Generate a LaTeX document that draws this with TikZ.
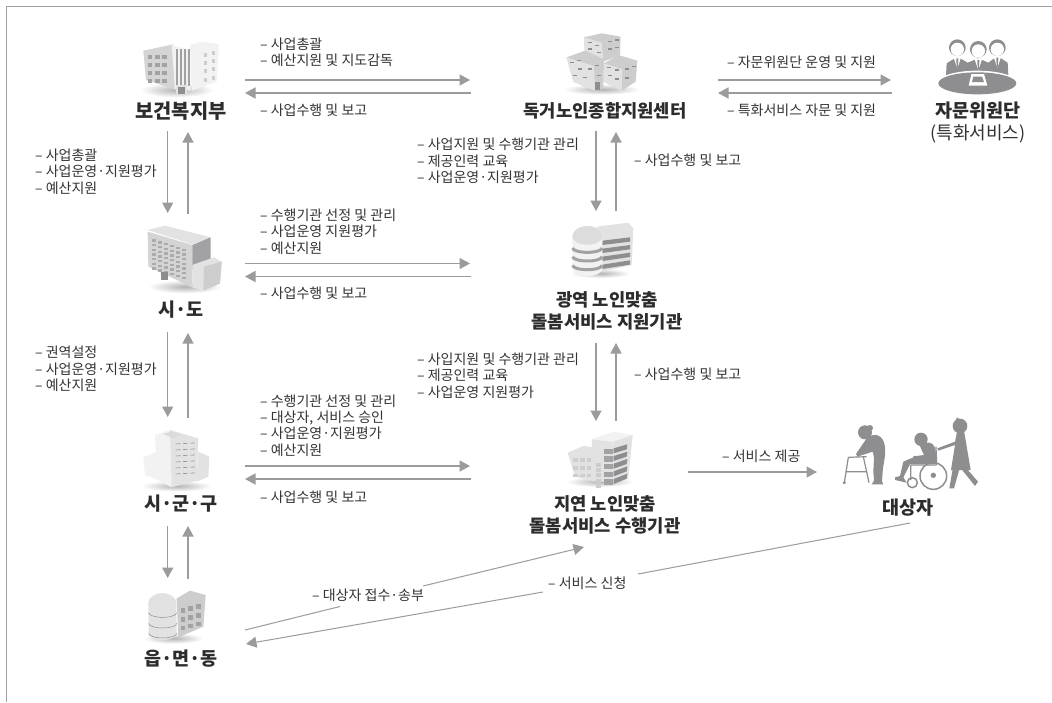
\documentclass[tikz,border=0pt]{standalone}
\usepackage{fontspec}
\setmainfont{Noto Sans CJK KR}
\usetikzlibrary{arrows.meta}
\definecolor{linegray}{HTML}{9B9B9E}
\definecolor{framegray}{HTML}{A0A0A0}
\definecolor{txt}{HTML}{333333}
\definecolor{ttl}{HTML}{2C2C2C}
\definecolor{iconW}{HTML}{F2F2F2}
\definecolor{iconL}{HTML}{E2E2E2}
\definecolor{iconM}{HTML}{CDCDCD}
\definecolor{iconD}{HTML}{A2A2A4}
\definecolor{iconK}{HTML}{8E8E91}
\tikzset{
  lbl/.style={anchor=west,inner sep=0pt,align=left,text=txt,font=\fontsize{14}{16.4}\selectfont},
  ttlnode/.style={inner sep=0pt,align=center,text=ttl,font=\bfseries\fontsize{18.5}{22}\selectfont},
  ttlnarrow/.style={ttlnode,font=\bfseries\fontsize{17.7}{22}\selectfont},
  ttlwide/.style={ttlnode,font=\bfseries\fontsize{19.8}{22}\selectfont},
  subnode/.style={inner sep=0pt,align=center,text=txt,font=\fontsize{18}{22}\selectfont},
  conn/.style={draw=linegray,line width=1.5pt,-{Triangle[length=10.5pt,width=11pt]}},
  thinconn/.style={draw=linegray,line width=1pt,-{Triangle[length=10.5pt,width=11pt]}},
  thinline/.style={draw=linegray,line width=1pt},
  zoomA/.style={x=0.33333pt,y=-0.33333pt},
  shadow/.style={inner color=black!30,outer color=white,draw=none},
}
\begin{document}
\begin{tikzpicture}[x=1pt,y=-1pt]
\useasboundingbox (0,0) rectangle (1052,702);
\fill[white] (0,0) rectangle (1052,702);
\draw[framegray,line width=1pt] (6,702) -- (6,6) -- (1052,6);

% ---------- icons (drawn in 3x crop coordinates)
\begin{scope}[zoomA]
 % health ministry building
 \shade[shadow] (530,270) ellipse (110 and 22);
 \fill[iconM!85!white] (430,152) -- (520,133) -- (525,268) -- (438,240) -- cycle;
 \fill[iconW] (515,135) -- (570,150) -- (572,272) -- (525,268) -- cycle;
 \foreach \x in {527,540,552,564}{\fill[iconD] (\x,146) rectangle +(6,112);}
 \fill[iconW] (570,135) -- (605,125) -- (657,132) -- (650,245) -- (575,272) -- cycle;
 \foreach \yy in {0,1,2,3}{\foreach \xx in {0,1,2}{
   \fill[iconD] (443+22*\xx,165+24*\yy) rectangle +(14,11);}
   \foreach \xx in {0,1}{\fill[iconM] (612+24*\xx,158+25*\yy-6*\xx) rectangle +(10,12);}}
 \fill[iconL] (528,256) rectangle (560,282);
 \fill[iconK] (534,262) rectangle (555,282);

 % si-do building
 \shade[shadow] (555,860) ellipse (110 and 20);
 \fill[iconL] (443,690) -- (495,677) -- (632,712) -- (577,733) -- cycle;
 \fill[iconM!85!white] (443,695) -- (577,735) -- (577,862) -- (445,800) -- cycle;
 \fill[iconD] (577,735) -- (632,712) -- (632,790) -- (577,810) -- cycle;
 \foreach \xx in {0,...,5}{\foreach \yy in {0,...,6}{
   \fill[iconD!90] (456+18*\xx,718+14*\yy+5.5*\xx) rectangle +(11,7);}}
 \fill[iconL] (577,795) -- (642,772) -- (665,785) -- (660,850) -- (610,872) -- (577,862) -- cycle;
 \fill[iconM] (612,800) -- (665,785) -- (660,850) -- (610,872) -- cycle;
 \fill[iconK] (483,817) rectangle (505,840);
\end{scope}

\begin{scope}[shift={(0,340)},zoomA]
 % si-gun-gu building
 \shade[shadow] (530,438) ellipse (105 and 16);
 \fill[iconW] (430,352) -- (470,335) -- (475,420) -- (435,405) -- cycle;
 \fill[iconL] (595,335) -- (628,350) -- (625,410) -- (590,425) -- cycle;
 \fill[iconW] (465,285) -- (510,270) -- (515,442) -- (472,420) -- cycle;
 \fill[iconL] (510,270) -- (595,295) -- (590,422) -- (515,442) -- cycle;
 \foreach \yy in {0,...,5}{\foreach \xx in {0,1,2}{
   \draw[iconK,line width=0.6pt] (527+22*\xx,312+18*\yy-1.2*\xx) -- +(14,-1);}}
 \fill[iconD!40] (490,282) -- (515,274) -- (545,284) -- (518,294) -- cycle;

 % eup-myeon-dong building
 \shade[shadow] (520,895) ellipse (90 and 16);
 \fill[iconM] (530,775) -- (570,752) -- (617,765) -- (610,860) -- (535,892) -- cycle;
 \foreach \yy in {0,1,2}{\foreach \xx in {0,1,2}{
   \fill[iconD] (542+23*\xx,805+26*\yy-6*\xx) rectangle +(14,14);}}
 \fill[iconL] (445,790) arc (180:360:42 and 30) -- (530,880) arc (0:180:42 and 20) -- cycle;
 \fill[iconM!60!white] (445,790) arc (180:360:42 and 30) arc (0:180:42 and 14) -- cycle;
 \foreach \yy in {818,850,880}{\draw[iconK,line width=0.5pt] (446,\yy) arc (180:0:42 and 14);}
\end{scope}

\begin{scope}[shift={(520,0)},zoomA]
 % independent-elderly centre
 \shade[shadow] (245,268) ellipse (115 and 16);
 \fill[iconM] (192,112) -- (245,100) -- (302,110) -- (300,165) -- (250,185) -- (195,160) -- cycle;
 \fill[iconL] (192,112) -- (245,128) -- (250,185) -- (195,160) -- cycle;
 \fill[iconM] (140,172) -- (195,152) -- (252,178) -- (250,265) -- (225,272) -- (160,245) -- cycle;
 \fill[iconL] (140,172) -- (222,198) -- (225,272) -- (160,245) -- cycle;
 \fill[iconM] (252,190) -- (295,165) -- (352,182) -- (347,245) -- (305,272) -- (250,245) -- cycle;
 \fill[iconL] (252,190) -- (307,208) -- (305,272) -- (250,245) -- cycle;
 \foreach \a/\b in {205/125,225/135,205/145,230/155,265/122,285/118,265/145,285/140,150/185,175/205,160/225,190/230,170/180,
   205/205,225/195,230/225,260/200,285/208,285/235,265/225,315/205,335/198,315/232}{
   \fill[iconK] (\a,\b) rectangle +(12,4);}
 \fill[iconK] (225,245) rectangle (240,270);

 % metropolitan support agency
 \shade[shadow] (240,820) ellipse (90 and 14);
 \fill[iconL] (230,680) -- (325,668) -- (340,685) -- (335,795) -- (245,815) -- cycle;
 \foreach \k in {0,1,2,3}{\fill[iconK] (247,722+24*\k) -- (330,712+23*\k) -- (330,725+23*\k) -- (247,735+24*\k) -- cycle;}
 \fill[iconW] (157,710) arc (180:360:45 and 32) -- (247,806) arc (0:180:45 and 22) -- cycle;
 \fill[iconM!70!white] (157,710) arc (180:360:45 and 32) arc (0:180:45 and 24) -- cycle;
 \foreach \yy in {744,770,796}{\draw[iconD,line width=3pt] (158,\yy) arc (180:0:44 and 13);}

 % advisory panel
 \foreach \hx/\hy in {1312/143,1375/148,1432/143}{
   \fill[iconK] (\hx,\hy) circle (25);
   \fill[white] (\hx,\hy+5) circle (20);
 }
 \fill[iconK] (1278,225) -- (1280,190) -- (1312,170) -- (1343,188) -- (1375,175) -- (1405,188) -- (1432,168) -- (1463,188) -- (1465,225) -- cycle;
 \foreach \tx/\ty in {1312/170,1375/175,1432/168}{
   \fill[white] (\tx-12,\ty) -- (\tx+12,\ty) -- (\tx,\ty+36) -- cycle;
   \fill[iconK] (\tx-3,\ty+5) -- (\tx+3,\ty+5) -- (\tx+2,\ty+34) -- (\tx-2,\ty+34) -- cycle;}
 \fill[white] (1372,249) ellipse (120 and 37);
 \fill[iconK] (1372,250) ellipse (117 and 33);
 \fill[white] (1346,257) -- (1354,222) -- (1392,222) -- (1402,257) -- cycle;
 \fill[iconK] (1356,246) -- (1360,230) -- (1386,230) -- (1392,246) -- cycle;
\end{scope}

\begin{scope}[shift={(520,340)},zoomA]
 % local service agency
 \shade[shadow] (240,425) ellipse (100 and 16);
 \fill[iconL] (143,338) -- (190,318) -- (222,322) -- (225,425) -- (165,410) -- cycle;
 \foreach \yy in {0,1,2}{\foreach \xx in {0,1,2}{
   \fill[iconM] (160+20*\xx,355+23*\yy) rectangle +(14,11);}}
 \fill[iconW] (215,298) -- (280,275) -- (338,285) -- (278,305) -- cycle;
 \fill[iconL] (215,298) -- (278,305) -- (280,430) -- (220,420) -- cycle;
 \fill[iconL] (278,305) -- (338,285) -- (325,415) -- (280,430) -- cycle;
 \foreach \k in {0,...,4}{
   \fill[iconD] (252,326+23*\k) rectangle +(26,16);
   \fill[iconK] (281,325+23*\k) -- (322,313+22*\k) -- (320,328+22*\k) -- (281,340+23*\k) -- cycle;
   \fill[iconM] (228,368+23*\k*0.7) rectangle +(14,12);}

 % recipients: person with walker
 \fill[iconK] (1035,277) circle (21);
 \fill[iconK] (1050,264) circle (9);
 \fill[iconK] (1040,295) .. controls (1065,275) and (1090,285) .. (1095,320)
   .. controls (1098,345) and (1090,370) .. (1088,395) -- (1086,425) -- (1090,433) -- (1055,433) -- (1062,422)
   -- (1060,395) -- (1062,352) -- (1058,335) -- (1012,350) -- (1008,342) -- cycle;
 \draw[iconK,line width=1.2pt] (985,352) -- (1040,350) (985,352) -- (973,428) (1030,350) -- (1047,428) (978,395) -- (1040,395);
 \fill[iconK] (973,428) circle (5);

 % recipients: wheelchair
 \draw[iconK,line width=1.5pt] (1240,408) circle (40);
 \draw[iconK,line width=1.5pt] (1177,428) circle (15);
 \fill[iconK] (1240,406) circle (8);
 \fill[iconK] (1203,298) circle (20);
 \fill[iconK] (1200,318) .. controls (1225,300) and (1245,305) .. (1248,340) -- (1248,372)
   -- (1170,372) -- (1150,412) -- (1160,428) -- (1125,420) -- (1125,412) -- (1140,408) -- (1150,365) -- (1185,350) -- (1212,345) -- (1205,330) -- cycle;
 \draw[iconK,line width=1.2pt] (1180,350) -- (1215,348) (1248,320) -- (1250,375) (1172,375) -- (1172,420) (1172,375) -- (1248,375);

 % recipients: carer
 \fill[iconK] (1320,258) circle (22);
 \fill[iconK] (1299,262) -- (1311,232) -- (1323,240) -- cycle;
 \fill[iconK] (1312,272) -- (1332,272) -- (1352,390) -- (1293,390) -- (1305,315) -- (1255,332) -- (1252,325) -- (1305,305) -- cycle;
 \fill[iconK] (1298,388) -- (1318,388) -- (1302,445) -- (1288,445) -- cycle;
 \fill[iconK] (1325,388) -- (1342,388) -- (1374,425) -- (1365,438) -- cycle;
\end{scope}

% ---------- titles
\node[ttlwide] (mohw) at (181,111) {보건복지부};
\node[ttlnode] (sido) at (181,310) {시·도};
\node[ttlnode] (sgg) at (181,504) {시·군·구};
\node[ttlnode] (emd) at (181,659) {읍·면·동};
\node[ttlnarrow] (center) at (605,111) {독거노인종합지원센터};
\node[ttlnarrow] (metro) at (607,311) {광역 노인맞춤\\돌봄서비스 지원기관};
\node[ttlnarrow] (local) at (605,515) {지연 노인맞춤\\돌봄서비스 수행기관};
\node[ttlnode] (panel) at (978,111) {자문위원단};
\node[subnode] (panelsub) at (978,134) {(특화서비스)};
\node[ttlnode] (target) at (908,508) {대상자};

% ---------- labels
\node[lbl] (l1) at (260,52.5) {– 사업총괄\\– 예산지원 및 지도감독};
\node[lbl] (l2) at (260,110) {– 사업수행 및 보고};
\node[lbl] (l3) at (417,161) {– 사업지원 및 수행기관 관리\\– 제공인력 교육\\– 사업운영·지원평가};
\node[lbl] (l4) at (634,160) {– 사업수행 및 보고};
\node[lbl] (l5) at (35,171.5) {– 사업총괄\\– 사업운영·지원평가\\– 예산지원};
\node[lbl] (l6) at (260,231.5) {– 수행기관 선정 및 관리\\– 사업운영 지원평가\\– 예산지원};
\node[lbl] (l7) at (260,293) {– 사업수행 및 보고};
\node[lbl] (l8) at (35,369) {– 권역설정\\– 사업운영·지원평가\\– 예산지원};
\node[lbl] (l9) at (417,375.5) {– 사입지원 및 수행기관 관리\\– 제공인력 교육\\– 사업운영 지원평가};
\node[lbl] (l10) at (634,374) {– 사업수행 및 보고};
\node[lbl] (l11) at (260,425.5) {– 수행기관 선정 및 관리\\– 대상자, 서비스 승인\\– 사업운영·지원평가\\– 예산지원};
\node[lbl] (l12) at (260,497) {– 사업수행 및 보고};
\node[lbl] (l13) at (727,62) {– 자문위원단 운영 및 지원};
\node[lbl] (l14) at (727,110) {– 특화서비스 자문 및 지원};
\node[lbl] (l15) at (722,456) {– 서비스 제공};
\node[lbl] (l16) at (312,595) {– 대상자 접수·송부};
\node[lbl] (l17) at (548,583) {– 서비스 신청};

% ---------- connector end points
\coordinate (a1) at (245,80);  \coordinate (a2) at (470,80);
\coordinate (b1) at (470.5,93); \coordinate (b2) at (245,93);
\coordinate (c1) at (245,263.5); \coordinate (c2) at (470,263.5);
\coordinate (d1) at (470.5,276.5); \coordinate (d2) at (245,276.5);
\coordinate (e1) at (245,466); \coordinate (e2) at (470,466);
\coordinate (f1) at (470.5,479); \coordinate (f2) at (245,479);
\coordinate (g1) at (718,80); \coordinate (g2) at (891,80);
\coordinate (h1) at (892,93); \coordinate (h2) at (718,93);
\coordinate (i1) at (688,472); \coordinate (i2) at (817,472);
\coordinate (j1) at (167.7,131); \coordinate (j2) at (167.7,213);
\coordinate (k1) at (188,214); \coordinate (k2) at (188,132);
\coordinate (m1) at (167.7,332); \coordinate (m2) at (167.7,417);
\coordinate (n1) at (188,418); \coordinate (n2) at (188,333);
\coordinate (o1) at (167.7,526); \coordinate (o2) at (167.7,578);
\coordinate (p1) at (188,579); \coordinate (p2) at (188,526);
\coordinate (q1) at (596,131); \coordinate (q2) at (596,211);
\coordinate (r1) at (616,211); \coordinate (r2) at (616,132);
\coordinate (s1) at (596,343); \coordinate (s2) at (596,421);
\coordinate (t1) at (616,421); \coordinate (t2) at (616,343);
\coordinate (u1) at (245,630); \coordinate (ug1) at (340,606.5);
\coordinate (ug2) at (423,586); \coordinate (u2) at (584,547);
\coordinate (v1) at (910,523); \coordinate (vg1) at (638,574);
\coordinate (vg2) at (543,592); \coordinate (v2) at (246,644);

% ---------- connectors
\foreach \s/\e in {a1/a2,b1/b2,c1/c2,d1/d2,e1/e2,f1/f2,g1/g2,h1/h2,i1/i2,j1/j2,k1/k2,m1/m2,n1/n2,o1/o2,p1/p2,q1/q2,r1/r2,s1/s2,t1/t2}{
  \draw[conn] (\s) -- (\e);
}
\draw[thinline] (u1) -- (ug1);
\draw[thinconn] (ug2) -- (u2);
\draw[thinline] (v1) -- (vg1);
\draw[thinconn] (vg2) -- (v2);
\end{tikzpicture}
\end{document}
